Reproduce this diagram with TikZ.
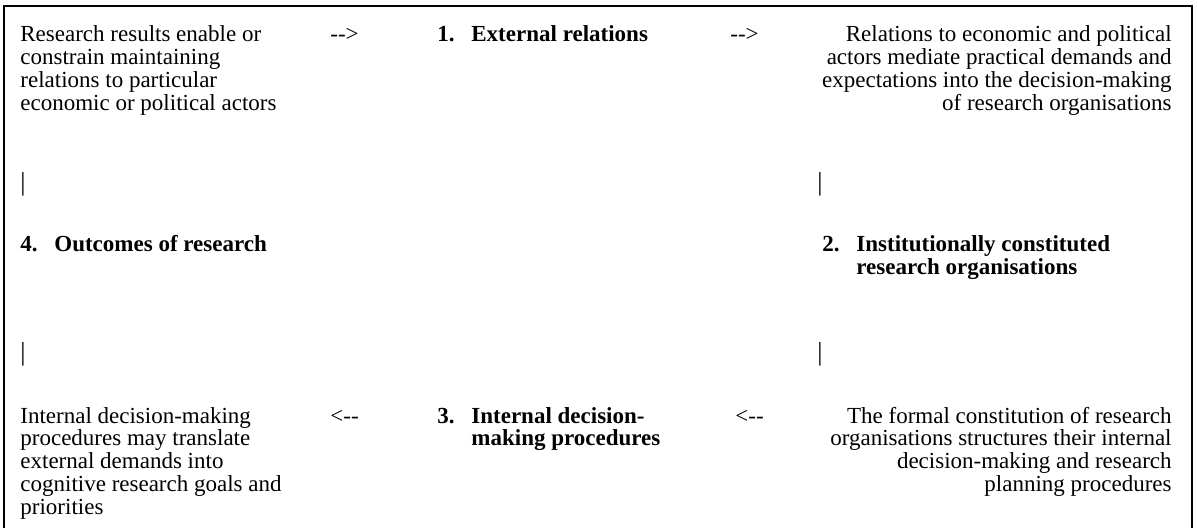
\documentclass[tikz,border=0pt]{standalone}
\usepackage{fontspec}
\setmainfont{Liberation Serif}
\newcommand{\rarr}{-\kern0pt-\kern0pt>}
\newcommand{\larr}{<\kern0pt-\kern0pt-}
\newcommand{\numbox}[1]{\makebox[17pt][l]{#1}}
\begin{document}
\begin{tikzpicture}[x=0.5pt,y=-0.5pt,
  txt/.style={inner sep=0pt, font=\fontsize{11.5}{11.4}\selectfont},
  body/.style={txt, anchor=base west},
  bodyr/.style={txt, anchor=base east},
  head/.style={txt, anchor=base west, font=\fontsize{11.5}{11.4}\selectfont\bfseries},
  vbar/.style={inner sep=0pt, anchor=center, font=\fontsize{13}{13}\selectfont},
  frame/.style={line width=0.6pt, black}]
\useasboundingbox (0,0) rectangle (1197,528);
\draw[frame] (4,528) -- (4,6) -- (1192,6) -- (1192,528);

% top row
\node[body] (tl) at (20,42) {\begin{tabular}[t]{@{}l@{}}Research results enable or\\constrain maintaining\\relations to particular\\economic or political actors\end{tabular}};
\node[body] (a1) at (330,42) {\rarr};
\node[head] (h1) at (437,42) {\numbox{1.}External relations};
\node[body] (a2) at (730,42) {\rarr};
\node[bodyr] (tr) at (1172,42) {\begin{tabular}[t]{@{}r@{}}Relations to economic and political\\actors mediate practical demands and\\expectations into the decision-making\\of research organisations\end{tabular}};

% vertical bars
\node[vbar] (b1) at (23,184) {|};
\node[vbar] (b2) at (820,184) {|};
\node[vbar] (b3) at (23,354) {|};
\node[vbar] (b4) at (820,354) {|};

% middle row
\node[head] (h4) at (20,252) {\numbox{4.}Outcomes of research};
\node[head] (h2) at (822,252) {\begin{tabular}[t]{@{}l@{}l@{}}\numbox{2.}&Institutionally constituted\\&research organisations\end{tabular}};

% bottom row
\node[body] (bl) at (20,423) {\begin{tabular}[t]{@{}l@{}}Internal decision-making\\procedures may translate\\external demands into\\cognitive research goals and\\priorities\end{tabular}};
\node[body] (a3) at (330,423) {\larr};
\node[head] (h3) at (437,423) {\begin{tabular}[t]{@{}l@{}l@{}}\numbox{3.}&Internal decision-\\&making procedures\end{tabular}};
\node[body] (a4) at (735,423) {\larr};
\node[bodyr] (br) at (1172,423) {\begin{tabular}[t]{@{}r@{}}The formal constitution of research\\organisations structures their internal\\decision-making and research\\planning procedures\end{tabular}};
\end{tikzpicture}
\end{document}
